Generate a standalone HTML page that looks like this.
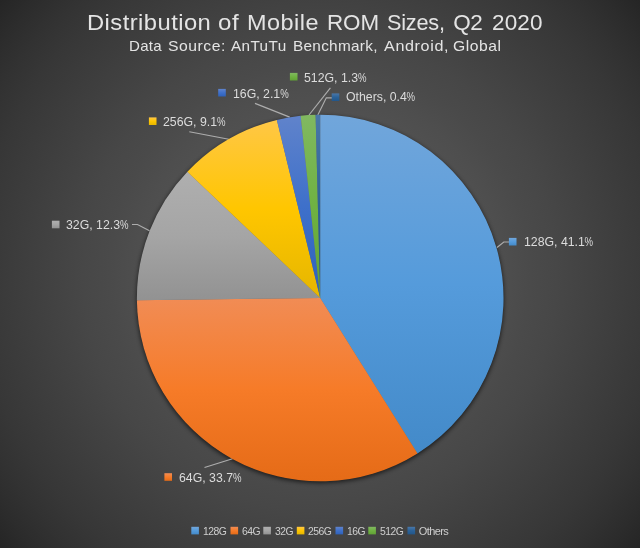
<!DOCTYPE html>
<html><head><meta charset="utf-8"><title>Distribution of Mobile ROM Sizes, Q2 2020</title>
<style>
html,body{margin:0;padding:0;}
body{width:640px;height:548px;overflow:hidden;position:relative;font-family:"Liberation Sans",sans-serif;
background:#3a3a3a;}
#bg{position:absolute;left:0;top:0;width:640px;height:548px;
background:radial-gradient(circle farthest-corner at 50% 50%,#616161 0.00%,#5f5f5f 6.25%,#5c5c5c 12.50%,#595959 18.75%,#575757 25.00%,#545454 31.25%,#515151 37.50%,#4e4e4e 43.75%,#4a4a4a 50.00%,#474747 56.25%,#434343 62.50%,#3f3f3f 68.75%,#3b3b3b 75.00%,#373737 81.25%,#323232 87.50%,#2c2c2c 93.75%,#252525 100.00%);}
svg{position:absolute;left:0;top:0;}
.t{position:absolute;white-space:nowrap;color:#e6e6e6;line-height:1;}
.tw{font-size:22.5px;color:#e4e4e4;filter:blur(0.25px);transform-origin:0 50%;}
.sw{font-size:14.6px;color:#e4e4e4;filter:blur(0.25px);transform-origin:0 50%;}
.dl{font-size:13.0px;color:#dcdcdc;filter:blur(0.3px);transform:scaleX(0.946);transform-origin:0 50%;}
.pc{display:inline-block;transform:scaleX(0.78);transform-origin:0 50%;margin-right:-2.4px;}
.lg{font-size:11px;color:#cecece;letter-spacing:-0.6px;transform-origin:0 50%;filter:blur(0.3px);}
</style></head><body><div id="bg"></div>
<svg width="640" height="548" viewBox="0 0 640 548">
<defs>
<filter id="sh" x="-10%" y="-10%" width="120%" height="120%"><feGaussianBlur stdDeviation="2.0"/></filter>

<linearGradient id="g0" x1="0" y1="0" x2="0" y2="1"><stop offset="0" stop-color="#71A6DB"/><stop offset="0.5" stop-color="#559BDB"/><stop offset="1" stop-color="#438AC9"/></linearGradient>
<linearGradient id="g1" x1="0" y1="0" x2="0" y2="1"><stop offset="0" stop-color="#F18C55"/><stop offset="0.5" stop-color="#F67B28"/><stop offset="1" stop-color="#E56B17"/></linearGradient>
<linearGradient id="g2" x1="0" y1="0" x2="0" y2="1"><stop offset="0" stop-color="#AFAFAF"/><stop offset="0.5" stop-color="#A5A5A5"/><stop offset="1" stop-color="#929292"/></linearGradient>
<linearGradient id="g3" x1="0" y1="0" x2="0" y2="1"><stop offset="0" stop-color="#FFC746"/><stop offset="0.5" stop-color="#FFC600"/><stop offset="1" stop-color="#E5B600"/></linearGradient>
<linearGradient id="g4" x1="0" y1="0" x2="0" y2="1"><stop offset="0" stop-color="#6083CB"/><stop offset="0.5" stop-color="#3E70CA"/><stop offset="1" stop-color="#2E61BA"/></linearGradient>
<linearGradient id="g5" x1="0" y1="0" x2="0" y2="1"><stop offset="0" stop-color="#81B861"/><stop offset="0.5" stop-color="#6FB242"/><stop offset="1" stop-color="#61A235"/></linearGradient>
<linearGradient id="g6" x1="0" y1="0" x2="0" y2="1"><stop offset="0" stop-color="#4A77A8"/><stop offset="0.5" stop-color="#2B6298"/><stop offset="1" stop-color="#22568A"/></linearGradient>
</defs>
<circle cx="320.2" cy="299.5" r="183.8" fill="#000" opacity="0.6" filter="url(#sh)"/>
<g fill="none" stroke="#adadad" stroke-width="1.15">
<path d="M255,103.4 L289.7,117.1"/>
<path d="M330.4,87.9 L309,115"/>
<path d="M332.3,97.8 L326.3,97.8 L317.8,115"/>
<path d="M189.3,131.8 L228.8,139.3"/>
<path d="M132,224.5 L137.5,224.5 L149.5,230.8"/>
<path d="M497,247.5 L503.8,242 L509.3,242"/>
<path d="M204.5,467.5 L232.5,458.8"/>
</g>
<circle cx="320.2" cy="298.0" r="182.70000000000002" fill="#6b6b6b"/>
<path d="M320.20,298.00 L320.20,114.70 A183.3,183.3 0 0 1 417.44,453.38 Z" fill="url(#g0)"/>
<path d="M320.20,298.00 L417.44,453.38 A183.3,183.3 0 0 1 136.91,300.30 Z" fill="url(#g1)"/>
<path d="M320.20,298.00 L136.91,300.30 A183.3,183.3 0 0 1 187.37,171.69 Z" fill="url(#g2)"/>
<path d="M320.20,298.00 L187.37,171.69 A183.3,183.3 0 0 1 276.85,119.90 Z" fill="url(#g3)"/>
<path d="M320.20,298.00 L276.85,119.90 A183.3,183.3 0 0 1 300.66,115.74 Z" fill="url(#g4)"/>
<path d="M320.20,298.00 L300.66,115.74 A183.3,183.3 0 0 1 315.59,114.76 Z" fill="url(#g5)"/>
<path d="M320.20,298.00 L315.59,114.76 A183.3,183.3 0 0 1 320.20,114.70 Z" fill="url(#g6)"/>
<rect x="289.90" y="72.90" width="7.6" height="7.6" fill="url(#g5)"/>
<rect x="218.20" y="88.90" width="7.6" height="7.6" fill="url(#g4)"/>
<rect x="331.70" y="93.40" width="7.6" height="7.6" fill="url(#g6)"/>
<rect x="148.90" y="117.40" width="7.6" height="7.6" fill="url(#g3)"/>
<rect x="51.90" y="220.70" width="7.6" height="7.6" fill="url(#g2)"/>
<rect x="508.90" y="237.90" width="7.6" height="7.6" fill="url(#g0)"/>
<rect x="164.40" y="473.20" width="7.6" height="7.6" fill="url(#g1)"/>
<rect x="191.3" y="526.8" width="7.6" height="7.6" fill="url(#g0)"/>
<rect x="230.5" y="526.8" width="7.6" height="7.6" fill="url(#g1)"/>
<rect x="263.3" y="526.8" width="7.6" height="7.6" fill="url(#g2)"/>
<rect x="296.8" y="526.8" width="7.6" height="7.6" fill="url(#g3)"/>
<rect x="335.5" y="526.8" width="7.6" height="7.6" fill="url(#g4)"/>
<rect x="368.3" y="526.8" width="7.6" height="7.6" fill="url(#g5)"/>
<rect x="407.5" y="526.8" width="7.6" height="7.6" fill="url(#g6)"/>
</svg>
<div class="t tw" style="left:86.64px;top:11.71px;letter-spacing:0.42px;transform:scaleX(1.057)">Distribution</div>
<div class="t tw" style="left:217.68px;top:11.71px;letter-spacing:0.5px;transform:scaleX(1.0694)">of</div>
<div class="t tw" style="left:246.67px;top:11.71px;letter-spacing:0.46px;transform:scaleX(1.0417)">Mobile</div>
<div class="t tw" style="left:326.76px;top:11.71px;letter-spacing:-0.05px;transform:scaleX(0.9949)">ROM</div>
<div class="t tw" style="left:387.04px;top:11.71px;letter-spacing:-0.24px;transform:scaleX(0.9649)">Sizes,</div>
<div class="t tw" style="left:453.25px;top:11.71px;letter-spacing:-0.4px;transform:scaleX(1.0)">Q2</div>
<div class="t tw" style="left:492.0px;top:11.71px;letter-spacing:0.13px;transform:scaleX(1.0)">2020</div>
<div class="t sw" style="left:128.97px;top:38.57px;letter-spacing:0.27px;transform:scaleX(1.0323)">Data</div>
<div class="t sw" style="left:167.67px;top:38.57px;letter-spacing:0.47px;transform:scaleX(1.0784)">Source:</div>
<div class="t sw" style="left:230.5px;top:38.57px;letter-spacing:0.36px;transform:scaleX(1.0481)">AnTuTu</div>
<div class="t sw" style="left:293.45px;top:38.57px;letter-spacing:0.27px;transform:scaleX(1.0513)">Benchmark,</div>
<div class="t sw" style="left:383.5px;top:38.57px;letter-spacing:0.57px;transform:scaleX(1.1053)">Android,</div>
<div class="t sw" style="left:452.67px;top:38.57px;letter-spacing:0.5px;transform:scaleX(1.0756)">Global</div>
<div class="t dl" style="left:304.40px;top:70.80px">512G, 1.3<span class="pc">%</span></div>
<div class="t dl" style="left:232.70px;top:86.80px">16G, 2.1<span class="pc">%</span></div>
<div class="t dl" style="left:346.40px;top:90.40px">Others, 0.4<span class="pc">%</span></div>
<div class="t dl" style="left:163.20px;top:115.10px">256G, 9.1<span class="pc">%</span></div>
<div class="t dl" style="left:66.40px;top:218.10px">32G, 12.3<span class="pc">%</span></div>
<div class="t dl" style="left:523.90px;top:235.40px">128G, 41.1<span class="pc">%</span></div>
<div class="t dl" style="left:179.40px;top:470.60px">64G, 33.7<span class="pc">%</span></div>
<div class="t lg" style="left:203.0px;top:525.86px;transform:scaleX(0.945)">128G</div>
<div class="t lg" style="left:241.8px;top:525.86px;transform:scaleX(0.945)">64G</div>
<div class="t lg" style="left:274.5px;top:525.86px;transform:scaleX(0.945)">32G</div>
<div class="t lg" style="left:308.0px;top:525.86px;transform:scaleX(0.945)">256G</div>
<div class="t lg" style="left:347.0px;top:525.86px;transform:scaleX(0.945)">16G</div>
<div class="t lg" style="left:380.0px;top:525.86px;transform:scaleX(0.945)">512G</div>
<div class="t lg" style="left:418.8px;top:525.86px;transform:scaleX(1.0)">Others</div>
</body></html>
